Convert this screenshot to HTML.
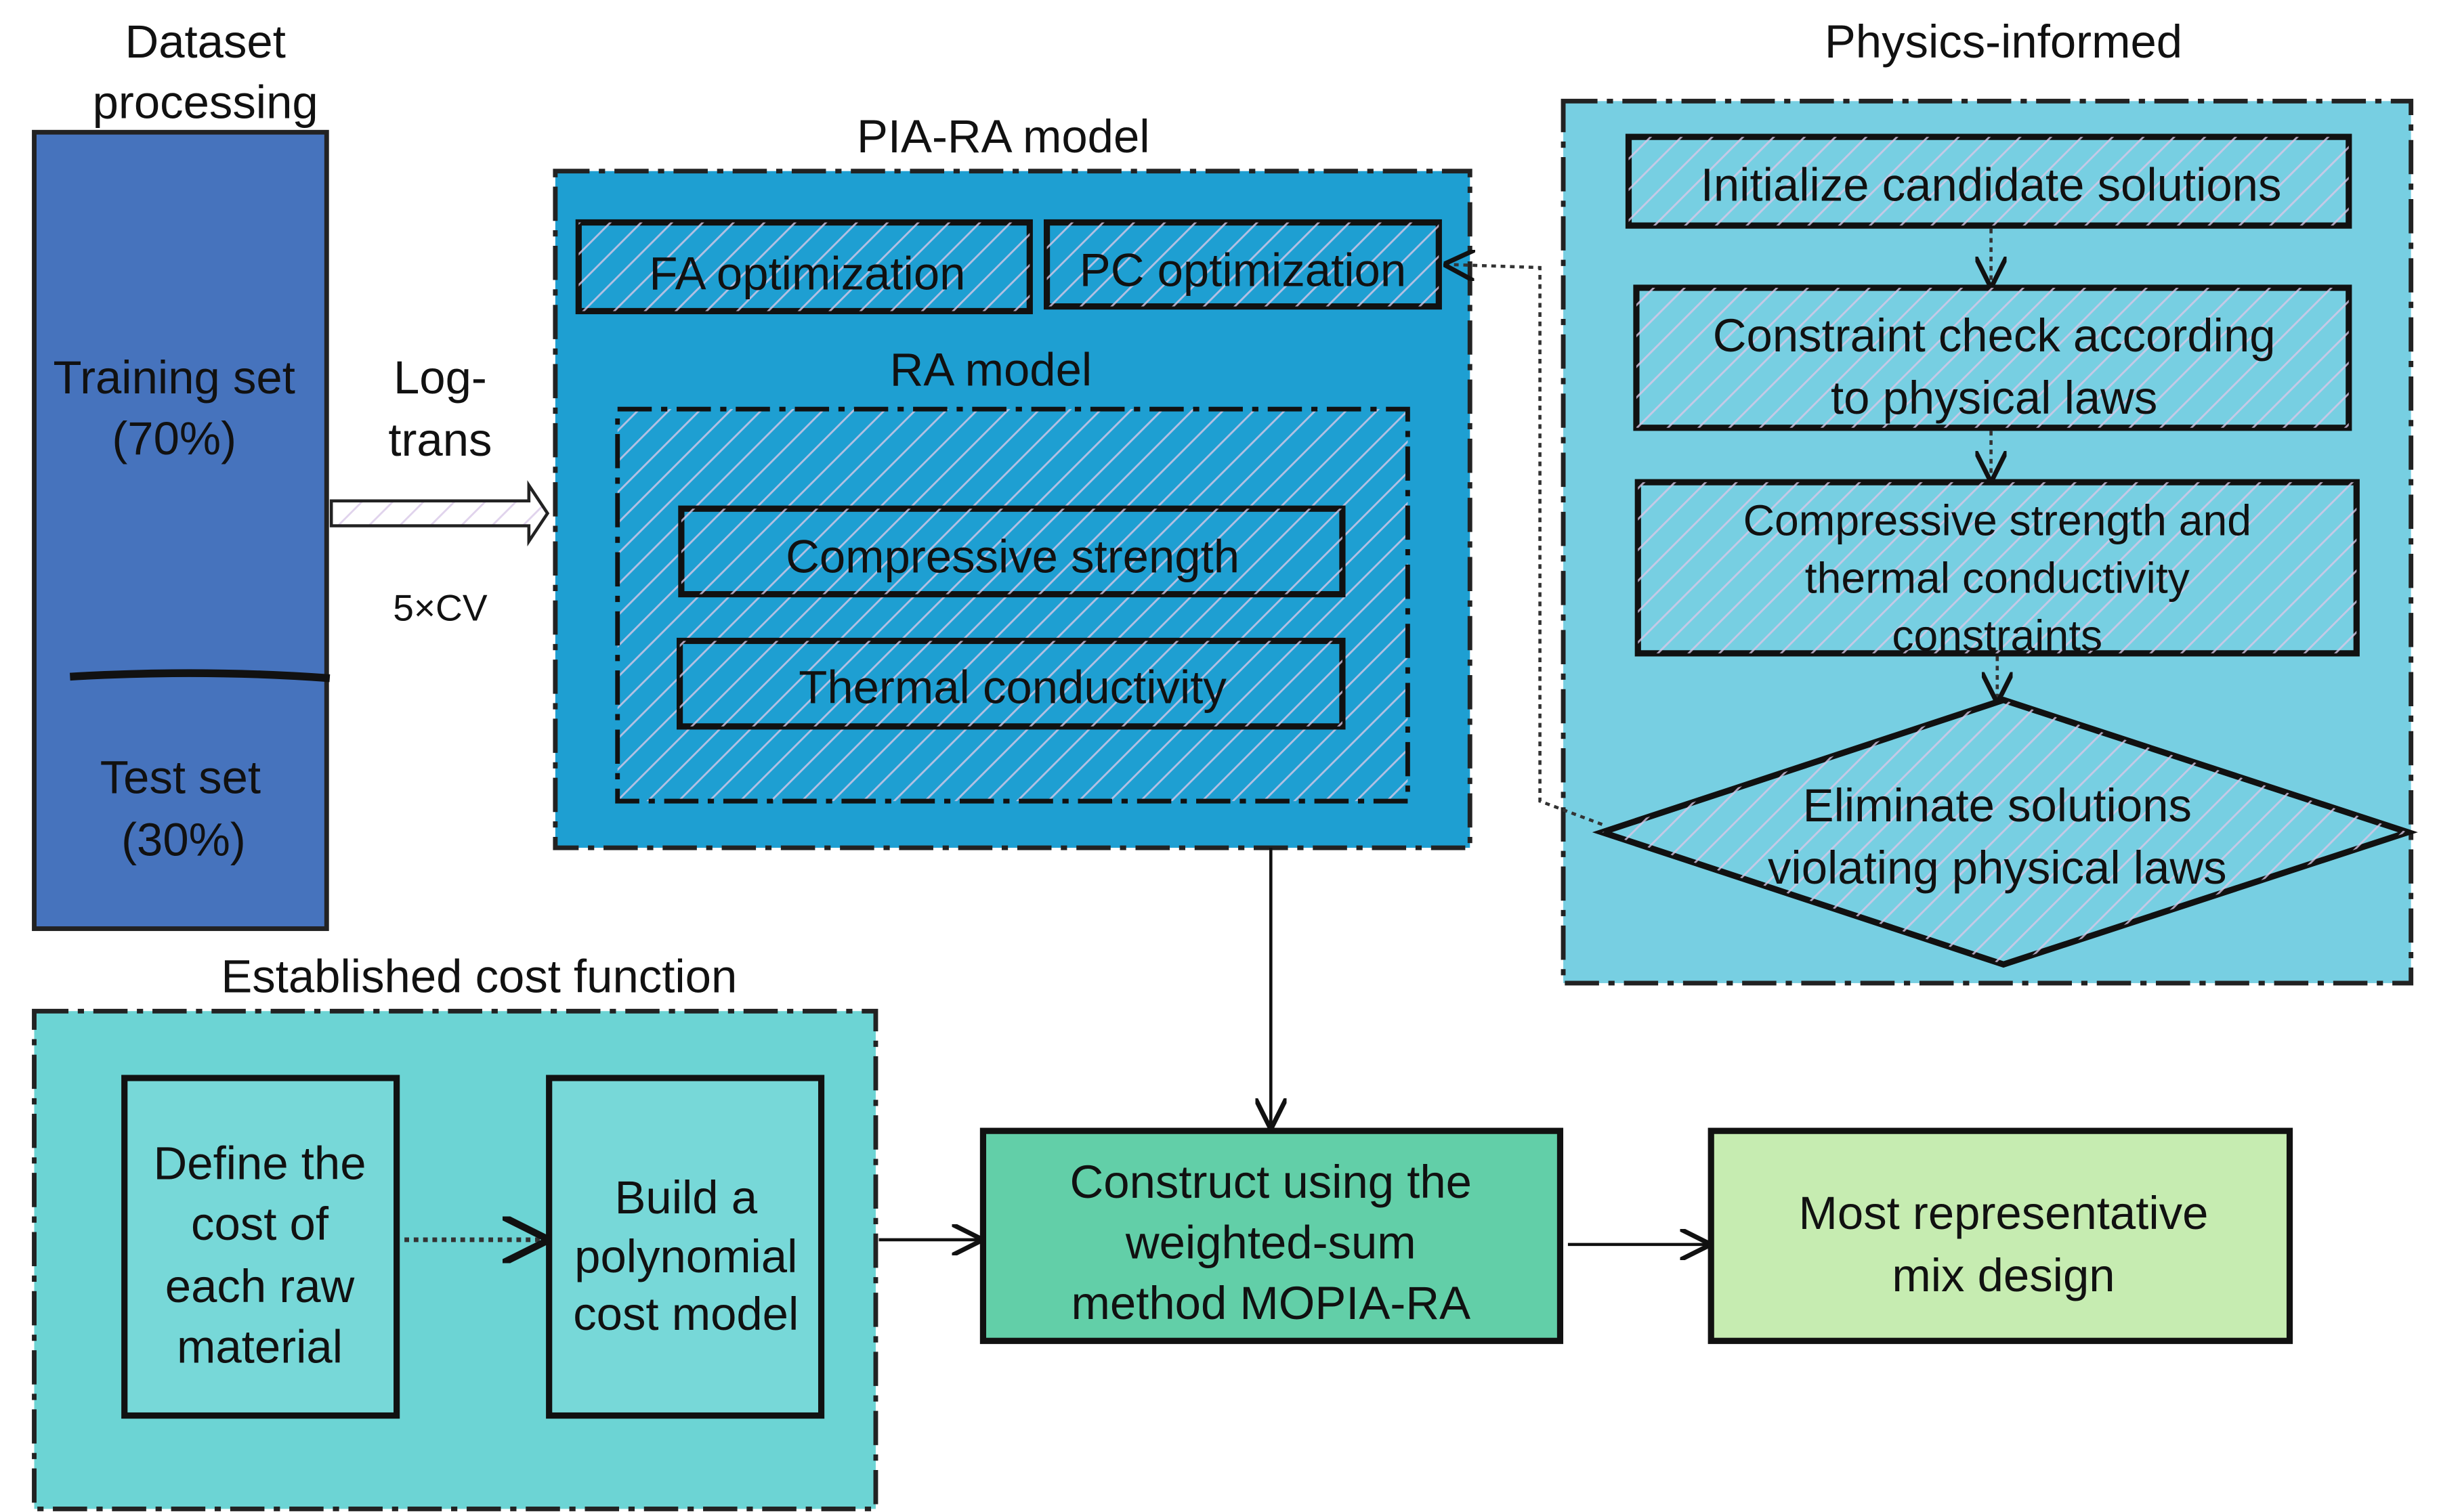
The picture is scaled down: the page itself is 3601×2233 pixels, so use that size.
<!DOCTYPE html>
<html><head><meta charset="utf-8"><style>html,body{margin:0;padding:0;background:#fff}svg{display:block}text{font-family:"Liberation Sans",sans-serif;fill:#111}</style></head><body>
<svg width="3601" height="2233" viewBox="0 0 1568 972" preserveAspectRatio="none" xmlns="http://www.w3.org/2000/svg">
<defs>
<pattern id="h" width="14" height="14" patternUnits="userSpaceOnUse" patternTransform="rotate(45)">
<line x1="0" y1="0" x2="0" y2="14" stroke="#d9c8e8" stroke-width="2.5" opacity="0.8"/></pattern>
<marker id="a" markerWidth="10" markerHeight="10" refX="9" refY="5" orient="auto"><path d="M0,0 L10,5 L0,10" fill="none" stroke="#111" stroke-width="1.5"/></marker>
</defs>
<!-- Dataset -->
<text x="132" y="37" font-size="30" text-anchor="middle">Dataset</text>
<text x="132" y="76" font-size="30" text-anchor="middle">processing</text>
<rect x="22" y="85" width="188" height="512" fill="#4673bd" stroke="#222" stroke-width="3"/>
<path d="M45 435 Q130 430 212 436" stroke="#111" stroke-width="5" fill="none"/>
<text x="112" y="253" font-size="30" text-anchor="middle">Training set</text>
<text x="112" y="292" font-size="30" text-anchor="middle">(70%)</text>
<text x="116" y="510" font-size="30" text-anchor="middle">Test set</text>
<text x="118" y="550" font-size="30" text-anchor="middle">(30%)</text>
<!-- log arrow -->
<path d="M213 322 L340 322 L340 312 L352 330 L340 348 L340 338 L213 338 Z" fill="url(#h)" stroke="#222" stroke-width="2"/>
<text x="283" y="253" font-size="30" text-anchor="middle">Log-</text>
<text x="283" y="293" font-size="30" text-anchor="middle">trans</text>
<text x="283" y="399" font-size="24" text-anchor="middle">5×CV</text>
<!-- PIA-RA -->
<text x="645" y="98" font-size="30" text-anchor="middle">PIA-RA model</text>
<rect x="357" y="110" width="588" height="435" fill="#1e9fd2" stroke="#222" stroke-width="3" stroke-dasharray="22 6 4 6"/>
<rect x="372" y="143" width="290" height="57" fill="#1e9fd2" stroke="#111" stroke-width="4"/>
<rect x="372" y="143" width="290" height="57" fill="url(#h)"/>
<text x="519" y="186" font-size="30" text-anchor="middle">FA optimization</text>
<rect x="673" y="143" width="252" height="54" fill="#1e9fd2" stroke="#111" stroke-width="4"/>
<rect x="673" y="143" width="252" height="54" fill="url(#h)"/>
<text x="799" y="184" font-size="30" text-anchor="middle">PC optimization</text>
<text x="637" y="248" font-size="30" text-anchor="middle">RA model</text>
<rect x="397" y="263" width="508" height="252" fill="url(#h)" stroke="#111" stroke-width="3" stroke-dasharray="22 6 4 6"/>
<rect x="438" y="327" width="425" height="55" fill="#1e9fd2" stroke="#111" stroke-width="4"/>
<rect x="438" y="327" width="425" height="55" fill="url(#h)"/>
<text x="651" y="368" font-size="30" text-anchor="middle">Compressive strength</text>
<rect x="437" y="412" width="426" height="55" fill="#1e9fd2" stroke="#111" stroke-width="4"/>
<rect x="437" y="412" width="426" height="55" fill="url(#h)"/>
<text x="651" y="452" font-size="30" text-anchor="middle">Thermal conductivity</text>
<!-- Physics -->
<text x="1288" y="37" font-size="30" text-anchor="middle">Physics-informed</text>
<rect x="1005" y="65" width="545" height="567" fill="#77cfe2" stroke="#222" stroke-width="3" stroke-dasharray="22 6 4 6"/>
<rect x="1047" y="88" width="463" height="57" fill="#77cfe2" stroke="#111" stroke-width="4"/>
<rect x="1047" y="88" width="463" height="57" fill="url(#h)"/>
<text x="1280" y="129" font-size="30" text-anchor="middle">Initialize candidate solutions</text>
<rect x="1052" y="185" width="458" height="90" fill="#77cfe2" stroke="#111" stroke-width="4"/>
<rect x="1052" y="185" width="458" height="90" fill="url(#h)"/>
<text x="1282" y="226" font-size="30" text-anchor="middle">Constraint check according</text>
<text x="1282" y="266" font-size="30" text-anchor="middle">to physical laws</text>
<rect x="1053" y="310" width="462" height="110" fill="#77cfe2" stroke="#111" stroke-width="4"/>
<rect x="1053" y="310" width="462" height="110" fill="url(#h)"/>
<text x="1284" y="344" font-size="28" text-anchor="middle">Compressive strength and</text>
<text x="1284" y="381" font-size="28" text-anchor="middle">thermal conductivity</text>
<text x="1284" y="418" font-size="28" text-anchor="middle">constraints</text>
<path d="M1288 450 L1548 535 L1288 620 L1030 535 Z" fill="#77cfe2" stroke="#111" stroke-width="4"/>
<path d="M1288 450 L1548 535 L1288 620 L1030 535 Z" fill="url(#h)"/>
<text x="1284" y="528" font-size="30" text-anchor="middle">Eliminate solutions</text>
<text x="1284" y="568" font-size="30" text-anchor="middle">violating physical laws</text>
<g stroke="#333" stroke-width="2" stroke-dasharray="3 3" fill="none" marker-end="url(#a)">
<line x1="1280" y1="147" x2="1280" y2="183"/>
<line x1="1280" y1="277" x2="1280" y2="308"/>
<line x1="1284" y1="422" x2="1284" y2="450"/>
<path d="M1030 530 L990 515 L990 172 L930 170"/>
</g>
<!-- cost -->
<text x="308" y="638" font-size="30" text-anchor="middle">Established cost function</text>
<rect x="22" y="650" width="541" height="320" fill="#6cd4d4" stroke="#222" stroke-width="3" stroke-dasharray="22 6 4 6"/>
<rect x="80" y="693" width="175" height="217" fill="#77d8d8" stroke="#111" stroke-width="4"/>
<text x="167" y="758" font-size="30" text-anchor="middle">Define the</text>
<text x="167" y="797" font-size="30" text-anchor="middle">cost of</text>
<text x="167" y="837" font-size="30" text-anchor="middle">each raw</text>
<text x="167" y="876" font-size="30" text-anchor="middle">material</text>
<rect x="353" y="693" width="175" height="217" fill="#77d8d8" stroke="#111" stroke-width="4"/>
<text x="441" y="780" font-size="30" text-anchor="middle">Build a</text>
<text x="441" y="818" font-size="30" text-anchor="middle">polynomial</text>
<text x="441" y="855" font-size="30" text-anchor="middle">cost model</text>
<line x1="260" y1="797" x2="350" y2="797" stroke="#333" stroke-width="3" stroke-dasharray="3 3" marker-end="url(#a)"/>
<line x1="565" y1="797" x2="630" y2="797" stroke="#111" stroke-width="2" marker-end="url(#a)"/>
<!-- construct -->
<line x1="817" y1="545" x2="817" y2="724" stroke="#111" stroke-width="2" marker-end="url(#a)"/>
<rect x="632" y="727" width="371" height="135" fill="#62cfa8" stroke="#111" stroke-width="4"/>
<text x="817" y="770" font-size="30" text-anchor="middle">Construct using the</text>
<text x="817" y="809" font-size="30" text-anchor="middle">weighted-sum</text>
<text x="817" y="848" font-size="30" text-anchor="middle">method MOPIA-RA</text>
<line x1="1008" y1="800" x2="1098" y2="800" stroke="#111" stroke-width="2" marker-end="url(#a)"/>
<rect x="1100" y="727" width="372" height="135" fill="#c6ecb1" stroke="#111" stroke-width="4"/>
<text x="1288" y="790" font-size="30" text-anchor="middle">Most representative</text>
<text x="1288" y="830" font-size="30" text-anchor="middle">mix design</text>
</svg>
</body></html>
